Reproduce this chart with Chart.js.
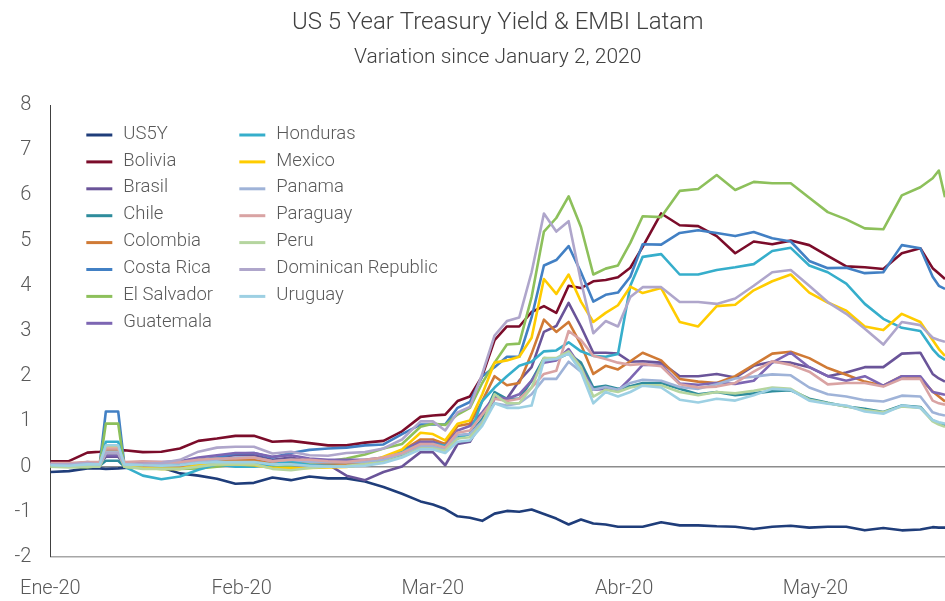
<!DOCTYPE html>
<html>
<head>
<meta charset="utf-8">
<title>US 5 Year Treasury Yield &amp; EMBI Latam</title>
<script src="https://cdn.jsdelivr.net/npm/chart.js@4.4.1/dist/chart.umd.min.js"></script>
<style>
  html, body { margin: 0; padding: 0; background: #fff; }
  #wrap { width: 945px; height: 601px; position: relative; }
</style>
</head>
<body>
<div id="wrap"><canvas id="chart"></canvas></div>
<script>
// days since 2 Jan 2020 at which values were read
const days = [0, 3, 6, 8, 9, 11, 12, 15, 18, 21, 24, 27, 30, 33, 36, 39, 42, 45, 48, 51, 54, 57,
  60, 62, 64, 66, 68, 70, 72, 74, 76, 78, 80, 82, 84, 86, 88, 90, 92, 94, 96,
  99, 102, 105, 108, 111, 114, 117, 120, 123, 126, 129, 132, 135, 138, 141, 143, 144, 145];
const tickDays = [0, 31, 62, 93, 124];
const tickLabels = ['Ene-20', 'Feb-20', 'Mar-20', 'Abr-20', 'May-20'];

const us5y = [-0.12, -0.1, -0.04, -0.04, -0.05, -0.04, -0.03,
  -0.02, -0.02, -0.15, -0.2, -0.27, -0.38, -0.36, -0.24, -0.3, -0.22, -0.26, -0.26, -0.33, -0.45, -0.6,
  -0.77, -0.84, -0.94, -1.1, -1.13, -1.2, -1.04, -0.98, -1.0, -0.95, -1.05, -1.15, -1.28, -1.17, -1.26, -1.28, -1.33, -1.33, -1.33,
  -1.23, -1.3, -1.3, -1.32, -1.33, -1.38, -1.33, -1.31, -1.35, -1.33, -1.33, -1.41, -1.36, -1.41, -1.39, -1.34, -1.35, -1.35];
const bolivia = [0.12, 0.12, 0.31, 0.33, 0.35, 0.35, 0.36,
  0.32, 0.33, 0.4, 0.57, 0.62, 0.68, 0.68, 0.55, 0.57, 0.52, 0.47, 0.47, 0.53, 0.57, 0.78,
  1.1, 1.13, 1.15, 1.45, 1.55, 2.0, 2.8, 3.1, 3.1, 3.42, 3.55, 3.4, 4.0, 3.95, 4.1, 4.13, 4.19, 4.4, 4.86,
  5.6, 5.34, 5.32, 5.1, 4.72, 4.98, 4.92, 5.0, 4.9, 4.66, 4.43, 4.41, 4.37, 4.72, 4.83, 4.39, 4.27, 4.15];
const brasil = [0.05, 0.03, 0.08, 0.05, 0.22, 0.22, 0.05,
  0.08, 0.05, 0.05, 0.12, 0.2, 0.25, 0.25, 0.15, 0.2, 0.12, 0.05, -0.2, -0.3, -0.12, 0.0,
  0.32, 0.32, 0.03, 0.5, 0.55, 1.0, 1.5, 1.5, 1.9, 2.2, 2.98, 3.11, 3.62, 3.1, 2.52, 2.52, 2.5, 2.32, 2.33,
  2.3, 2.0, 2.0, 2.05, 1.97, 2.23, 2.32, 2.3, 2.2, 2.0, 2.08, 2.2, 2.2, 2.5, 2.52, 2.05, 1.95, 1.88];
const chile = [0.0, 0.0, 0.02, 0.02, 0.13, 0.13, 0.0,
  0.0, 0.0, 0.0, 0.05, 0.08, 0.1, 0.1, 0.05, 0.1, 0.08, 0.05, 0.05, 0.05, 0.12, 0.25,
  0.45, 0.45, 0.4, 0.68, 0.72, 1.05, 1.65, 1.5, 1.5, 1.9, 2.4, 2.38, 2.5, 2.3, 1.75, 1.79, 1.72, 1.78, 1.85,
  1.85, 1.72, 1.6, 1.65, 1.58, 1.62, 1.67, 1.69, 1.5, 1.41, 1.33, 1.28, 1.21, 1.35, 1.32, 1.02, 0.96, 0.91];
const colombia = [0.05, 0.05, 0.05, 0.05, 0.35, 0.35, 0.05,
  0.02, 0.0, 0.0, 0.08, 0.12, 0.15, 0.15, 0.08, 0.1, 0.08, 0.05, 0.05, 0.08, 0.2, 0.35,
  0.6, 0.6, 0.5, 0.9, 0.95, 1.45, 2.0, 1.8, 1.85, 2.5, 3.25, 2.98, 3.2, 2.7, 2.05, 2.23, 2.15, 2.33, 2.52,
  2.35, 1.94, 1.88, 1.85, 2.0, 2.25, 2.5, 2.54, 2.4, 2.18, 2.03, 1.88, 1.79, 2.0, 1.96, 1.66, 1.55, 1.44];
const costaRica = [0.05, 0.05, 0.02, 0.05, 1.22, 1.22, 0.05,
  0.05, 0.04, 0.05, 0.15, 0.2, 0.29, 0.3, 0.2, 0.3, 0.37, 0.4, 0.42, 0.47, 0.49, 0.72,
  0.93, 0.93, 0.93, 1.3, 1.43, 2.0, 2.2, 2.43, 2.43, 3.3, 4.45, 4.57, 4.88, 4.3, 3.65, 3.8, 3.85, 4.2, 4.92,
  4.91, 5.17, 5.23, 5.17, 5.1, 5.19, 5.05, 4.98, 4.55, 4.39, 4.4, 4.28, 4.3, 4.9, 4.83, 4.2, 4.0, 3.93];
const elSalvador = [0.02, 0.0, -0.02, 0.02, 0.95, 0.95, 0.0,
  -0.03, -0.05, -0.05, -0.04, 0.0, 0.05, 0.05, -0.02, 0.02, 0.08, 0.12, 0.18, 0.27, 0.4, 0.5,
  0.88, 0.95, 0.92, 1.15, 1.3, 1.85, 2.3, 2.7, 2.72, 3.75, 5.2, 5.5, 5.98, 5.3, 4.25, 4.38, 4.45, 4.95, 5.54,
  5.52, 6.1, 6.14, 6.45, 6.12, 6.3, 6.27, 6.27, 5.95, 5.63, 5.47, 5.27, 5.25, 6.0, 6.18, 6.38, 6.55, 5.96];
const guatemala = [0.08, 0.05, 0.1, 0.08, 0.25, 0.25, 0.08,
  0.1, 0.1, 0.12, 0.2, 0.25, 0.3, 0.3, 0.22, 0.25, 0.18, 0.15, 0.15, 0.15, 0.2, 0.35,
  0.55, 0.55, 0.45, 0.8, 0.9, 1.2, 1.55, 1.5, 1.6, 1.9, 2.3, 2.35, 2.6, 2.2, 1.7, 1.72, 1.68, 1.95, 2.25,
  2.25, 1.84, 1.81, 1.85, 1.83, 1.9, 2.3, 2.52, 2.2, 2.0, 1.9, 2.0, 1.79, 2.0, 2.0, 1.65, 1.62, 1.59];
const honduras = [0.02, 0.0, 0.0, 0.03, 0.55, 0.55, 0.0,
  -0.2, -0.28, -0.22, -0.07, 0.05, 0.0, 0.0, 0.05, 0.12, 0.03, 0.02, 0.0, 0.05, 0.13, 0.35,
  0.47, 0.5, 0.46, 0.62, 0.73, 1.45, 1.75, 2.0, 2.23, 2.32, 2.55, 2.57, 2.75, 2.55, 2.45, 2.43, 2.49, 4.0, 4.64,
  4.7, 4.25, 4.25, 4.35, 4.41, 4.48, 4.77, 4.84, 4.45, 4.3, 4.05, 3.6, 3.27, 3.07, 3.0, 2.6, 2.45, 2.36];
const mexico = [0.0, 0.02, 0.03, 0.05, 0.45, 0.45, 0.0,
  -0.03, -0.05, -0.05, 0.04, 0.05, 0.05, 0.03, -0.03, -0.04, -0.03, -0.02, -0.01, 0.05, 0.22, 0.38,
  0.75, 0.72, 0.58, 0.95, 1.02, 1.6, 2.3, 2.35, 2.43, 2.85, 4.15, 3.82, 4.25, 3.65, 3.2, 3.4, 3.57, 3.98, 3.84,
  3.95, 3.2, 3.1, 3.55, 3.58, 3.9, 4.1, 4.25, 3.85, 3.63, 3.45, 3.1, 3.02, 3.38, 3.2, 2.8, 2.6, 2.45];
const panama = [0.05, 0.03, 0.05, 0.05, 0.33, 0.33, 0.05,
  0.05, 0.05, 0.08, 0.12, 0.15, 0.2, 0.2, 0.12, 0.15, 0.1, 0.1, 0.1, 0.1, 0.15, 0.28,
  0.45, 0.45, 0.38, 0.7, 0.72, 1.0, 1.4, 1.35, 1.4, 1.6, 1.94, 1.94, 2.32, 2.1, 1.7, 1.76, 1.7, 1.85, 1.92,
  1.9, 1.76, 1.72, 1.82, 1.95, 1.99, 2.04, 2.02, 1.75, 1.6, 1.55, 1.47, 1.44, 1.57, 1.55, 1.2, 1.16, 1.13];
const paraguay = [0.08, 0.08, 0.1, 0.1, 0.4, 0.4, 0.1,
  0.12, 0.1, 0.1, 0.15, 0.18, 0.18, 0.2, 0.12, 0.15, 0.15, 0.12, 0.1, 0.15, 0.2, 0.3,
  0.5, 0.5, 0.42, 0.75, 0.8, 1.15, 1.5, 1.45, 1.5, 1.75, 2.05, 2.12, 3.0, 2.8, 2.45, 2.38, 2.3, 2.25, 2.27,
  2.22, 1.82, 1.75, 1.77, 1.85, 2.1, 2.33, 2.25, 2.1, 1.82, 1.85, 1.85, 1.77, 1.94, 1.94, 1.46, 1.4, 1.37];
const peru = [0.0, -0.02, 0.0, 0.0, 0.3, 0.3, 0.0,
  -0.05, -0.05, -0.05, 0.0, 0.05, 0.05, 0.05, -0.05, -0.08, -0.03, 0.0, 0.02, 0.05, 0.1, 0.22,
  0.4, 0.4, 0.35, 0.62, 0.65, 0.95, 1.6, 1.4, 1.4, 1.75, 2.4, 2.4, 2.55, 2.2, 1.55, 1.7, 1.65, 1.75, 1.8,
  1.8, 1.65, 1.58, 1.65, 1.62, 1.68, 1.75, 1.72, 1.48, 1.4, 1.33, 1.25, 1.2, 1.33, 1.3, 1.0, 0.93, 0.88];
const dominicanRep = [0.05, 0.05, 0.08, 0.05, 0.3, 0.3, 0.05,
  0.06, 0.08, 0.15, 0.33, 0.42, 0.44, 0.44, 0.29, 0.33, 0.25, 0.24, 0.3, 0.32, 0.4, 0.6,
  1.0, 1.0, 0.8, 1.2, 1.32, 2.05, 2.9, 3.22, 3.3, 4.3, 5.6, 5.2, 5.43, 4.1, 2.95, 3.22, 3.1, 3.75, 3.97,
  3.97, 3.64, 3.64, 3.6, 3.72, 4.0, 4.3, 4.35, 4.0, 3.64, 3.38, 3.05, 2.7, 3.2, 3.13, 2.85, 2.8, 2.76];
const uruguay = [0.03, 0.02, 0.05, 0.05, 0.47, 0.47, 0.05,
  0.03, 0.02, 0.03, 0.08, 0.1, 0.1, 0.1, 0.05, 0.05, 0.02, 0.0, 0.0, 0.02, 0.08, 0.2,
  0.38, 0.38, 0.3, 0.55, 0.58, 0.9, 1.4, 1.3, 1.3, 1.35, 2.35, 2.38, 2.5, 2.1, 1.4, 1.65, 1.55, 1.65, 1.79,
  1.75, 1.48, 1.42, 1.5, 1.46, 1.58, 1.72, 1.7, 1.46, 1.39, 1.35, 1.22, 1.17, 1.35, 1.3, 1.03, 0.98, 0.95];

const seriesNames = ['US5Y', 'Bolivia', 'Brasil', 'Chile', 'Colombia', 'Costa Rica', 'El Salvador', 'Guatemala',
  'Honduras', 'Mexico', 'Panama', 'Paraguay', 'Peru', 'Dominican Republic', 'Uruguay'];
const seriesValues = [us5y, bolivia, brasil, chile, colombia, costaRica, elSalvador, guatemala,
  honduras, mexico, panama, paraguay, peru, dominicanRep, uruguay];
const seriesColors = ['#1f3d7a', '#7b0c2a', '#6a5499', '#2e8c9c', '#d07a35', '#4280c4', '#8dc05b', '#7d66b3',
  '#36aecb', '#ffcc00', '#9fb3d8', '#d9a3a3', '#b5d59f', '#afa6cb', '#9dd0e3'];

const textColor = '#595959';
const font = 'Roboto';

// two-column legend inside the plot, like the original
const columnLegend = {
  id: 'columnLegend',
  afterDraw(chart) {
    const { ctx, chartArea } = chart;
    ctx.save();
    ctx.font = '300 18.5px ' + font;
    ctx.textBaseline = 'middle';
    ctx.textAlign = 'left';
    chart.data.datasets.forEach((ds, i) => {
      const col = Math.floor(i / 8);
      const row = i % 8;
      const x = chartArea.left + 36 + col * 153;
      const y = chartArea.top + 30 + row * 26.9;
      ctx.strokeStyle = ds.borderColor;
      ctx.lineWidth = 3;
      ctx.beginPath();
      ctx.moveTo(x, y);
      ctx.lineTo(x + 26, y);
      ctx.stroke();
      ctx.fillStyle = textColor;
      ctx.fillText(ds.label, x + 37, y - 1);
    });
    ctx.restore();
  }
};

const ctx = document.getElementById('chart').getContext('2d');
new Chart(ctx, {
  type: 'line',
  data: {
    datasets: seriesNames.map((name, i) => ({
      label: name,
      data: days.map((d, k) => ({ x: d, y: seriesValues[i][k] })),
      borderColor: seriesColors[i],
      backgroundColor: seriesColors[i],
      order: seriesNames.length - i
    }))
  },
  options: {
    responsive: true,
    maintainAspectRatio: false,
    animation: false,
    elements: {
      point: { radius: 0 },
      line: { borderWidth: 2.6, tension: 0, borderJoinStyle: 'round' }
    },
    layout: { padding: 0 },
    plugins: {
      legend: { display: false },
      tooltip: { enabled: false },
      title: {
        display: true,
        fullSize: false,
        text: 'US 5 Year Treasury Yield & EMBI Latam',
        color: '#404040',
        font: { family: font, size: 24, weight: '300' },
        padding: { top: 9, bottom: 4 }
      },
      subtitle: {
        display: true,
        fullSize: false,
        text: 'Variation since January 2, 2020',
        color: '#404040',
        font: { family: font, size: 21, weight: '300' },
        padding: { top: 3, bottom: 35 }
      }
    },
    scales: {
      x: {
        type: 'linear',
        min: 0,
        max: 145,
        afterBuildTicks: (scale) => { scale.ticks = tickDays.map(v => ({ value: v })); },
        afterFit: (scale) => { scale.height = 44; },
        grid: { display: false, drawTicks: false },
        border: { display: true, color: '#a6a6a6', width: 1.5 },
        ticks: {
          autoSkip: false,
          maxRotation: 0,
          padding: 20,
          color: textColor,
          font: { family: font, size: 20, weight: '300' },
          callback: (value) => tickLabels[tickDays.indexOf(value)] || ''
        }
      },
      y: {
        min: -2,
        max: 8,
        afterFit: (scale) => { scale.width = 41; },
        grid: {
          drawTicks: false,
          color: (c) => c.tick && c.tick.value === 0 ? '#8c8c8c' : 'rgba(0,0,0,0)',
          lineWidth: (c) => c.tick && c.tick.value === 0 ? 1.5 : 0
        },
        border: { display: true, color: '#404040', width: 1 },
        ticks: {
          stepSize: 1,
          padding: 19,
          color: textColor,
          font: { family: font, size: 20, weight: '300' }
        }
      }
    }
  },
  plugins: [columnLegend]
});
</script>
</body>
</html>
